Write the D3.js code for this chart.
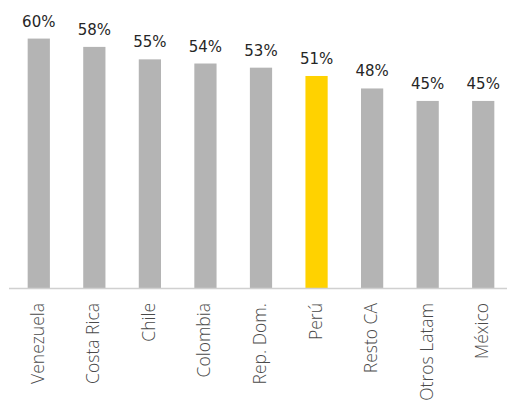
<!DOCTYPE html>
<html>
<head>
<meta charset="utf-8">
<script src="https://cdn.jsdelivr.net/npm/d3@7"></script>
<style>
  html, body { margin: 0; padding: 0; background: #fff; }
  svg { display: block; }
</style>
</head>
<body>
<svg id="chart" width="507" height="403"></svg>
<script>
const categories = ["Venezuela", "Costa Rica", "Chile", "Colombia", "Rep. Dom.", "Perú", "Resto CA", "Otros Latam", "México"];
const values = [0.60, 0.58, 0.55, 0.54, 0.53, 0.51, 0.48, 0.45, 0.45];
const valueLabels = ["60%", "58%", "55%", "54%", "53%", "51%", "48%", "45%", "45%"];
const highlight = "Perú";

const svg = d3.select("#chart");
const baseY = 288;

const x = d3.scaleBand().domain(categories).range([11, 511]).paddingInner(0.6).paddingOuter(0.3);
const y = d3.scaleLinear().domain([0, 0.7]).range([baseY, -3]);

const data = categories.map((c, i) => ({ c, v: values[i], l: valueLabels[i] }));

svg.selectAll("rect.bar").data(data).join("rect")
  .attr("class", "bar")
  .attr("x", d => x(d.c))
  .attr("width", x.bandwidth())
  .attr("y", d => y(d.v))
  .attr("height", d => y(0) - y(d.v))
  .attr("fill", d => d.c === highlight ? "#FFD200" : "#B4B4B4");

// baseline
svg.append("line")
  .attr("x1", 9).attr("x2", 507)
  .attr("y1", baseY + 0.5).attr("y2", baseY + 0.5)
  .attr("stroke", "#D0D0D0").attr("stroke-width", 1.5);

// value labels
svg.selectAll("text.val").data(data).join("text")
  .attr("class", "val")
  .attr("x", d => x(d.c) + x.bandwidth() / 2)
  .attr("y", d => y(d.v) - 12)
  .attr("text-anchor", "middle")
  .style("font-family", "'DejaVu Sans', sans-serif")
  .style("font-size", "15px")
  .style("font-weight", "normal")
  .attr("fill", "#262626")
  .text(d => d.l);

// category axis
const axis = d3.axisBottom(x).tickSize(0).tickPadding(0);
const g = svg.append("g").attr("transform", `translate(0,${baseY})`).call(axis);
g.select(".domain").remove();
g.selectAll(".tick text")
  .attr("transform", "translate(5,15) rotate(-90)")
  .attr("x", 0).attr("y", 0).attr("dy", 0)
  .attr("text-anchor", "end")
  .style("font-family", "'Open Sans', sans-serif")
  .style("font-size", "17.5px")
  .style("font-weight", "300")
  .attr("fill", "#4a4a4a");
</script>
</body>
</html>
